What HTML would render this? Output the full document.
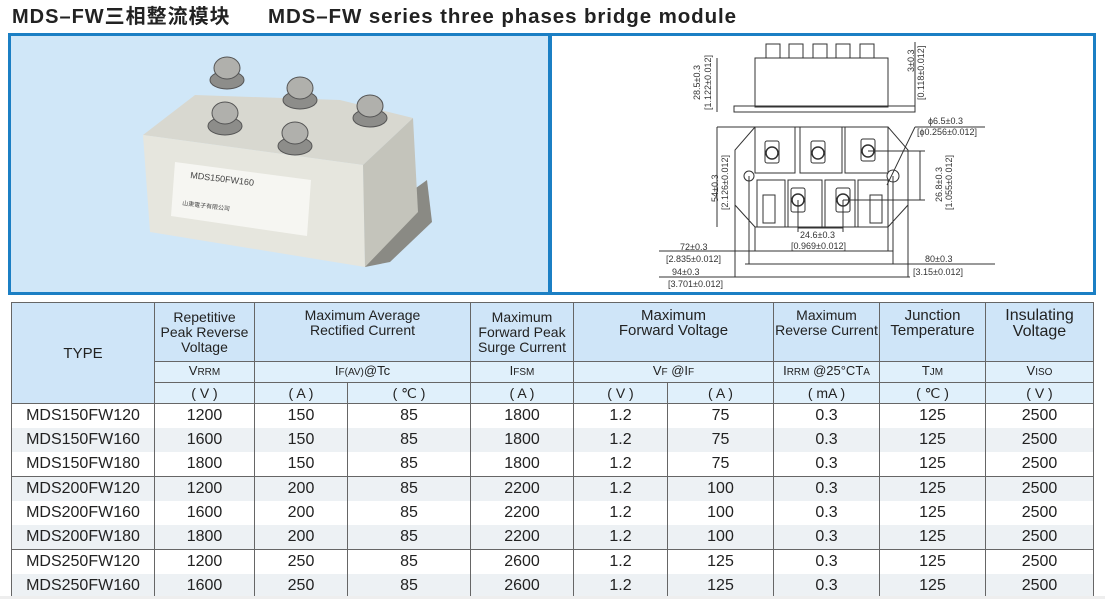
<!DOCTYPE html>
<html><head><meta charset="utf-8"><style>
body{margin:0;width:1105px;height:599px;overflow:hidden;background:#fff;font-family:"Liberation Sans","Noto Sans CJK SC",sans-serif;position:relative}
.t{position:absolute;top:4px;height:26px;line-height:26px;font-weight:bold;font-size:20px;color:#222;white-space:nowrap}
.p{position:absolute;box-sizing:border-box;border:3px solid #1b7fc4}
table{position:absolute;left:11px;top:302px;border-collapse:collapse;table-layout:fixed;font-family:"Liberation Sans",sans-serif;color:#222}
td{border:1px solid #666;text-align:center;padding:0;white-space:nowrap}
.h td{background:#cfe5f8;font-size:14px;line-height:15px;height:53px}
.s td{background:#e0f0fb;font-size:13px;line-height:14px;height:20px}
.u td{background:#e0f0fb;font-size:14px;line-height:15px;height:20px}
.d td{font-size:16px;line-height:18px;height:24px;border-top:none;border-bottom:none;background:#fff}
.d.z td{background:#edf1f4}
.d.g td{border-top:1px solid #666}
sm{font-size:10px}
</style></head><body>
<div class="t" style="left:12px;letter-spacing:1px">MDS–FW三相整流模块</div>
<div class="t" style="left:268px;letter-spacing:0.9px;font-size:20.5px">MDS–FW series three phases bridge module</div>
<div class="p" style="left:8px;top:33px;width:543px;height:262px;background:#d0e7f8">
<svg width="537" height="256" style="position:absolute;left:0;top:0" viewBox="11 36 537 256">
<polygon points="365,225 427,180 432,222 390,262 365,267" fill="#8a8a84"/>
<polygon points="143,135 195,95 340,100 413,118 363,165" fill="#d8d8d0"/>
<polygon points="143,135 363,165 365,267 150,232" fill="#e6e6de"/>
<polygon points="363,165 413,118 418,212 365,267" fill="#c4c4bb"/>
<polygon points="175,162 311,180 307,236 171,216" fill="#f6f6f2"/>
<text x="190" y="178" font-size="9" fill="#444" transform="rotate(7 190 178)">MDS150FW160</text>
<text x="182" y="205" font-size="6" fill="#444" transform="rotate(7 182 205)">山東電子有限公司</text>
<g fill="#8d8d8a" stroke="#555" stroke-width="1">
<ellipse cx="227" cy="80" rx="17" ry="9"/><ellipse cx="227" cy="68" rx="13" ry="11" fill="#b0b0ac"/>
<ellipse cx="300" cy="100" rx="17" ry="9"/><ellipse cx="300" cy="88" rx="13" ry="11" fill="#b0b0ac"/>
<ellipse cx="370" cy="118" rx="17" ry="9"/><ellipse cx="370" cy="106" rx="13" ry="11" fill="#b0b0ac"/>
<ellipse cx="225" cy="126" rx="17" ry="9"/><ellipse cx="225" cy="113" rx="13" ry="11" fill="#b0b0ac"/>
<ellipse cx="295" cy="146" rx="17" ry="9"/><ellipse cx="295" cy="133" rx="13" ry="11" fill="#b0b0ac"/>
</g>
</svg></div>
<div class="p" style="left:549px;top:33px;width:547px;height:262px;background:#fff"></div>
<svg width="1105" height="300" style="position:absolute;left:0;top:0" fill="none" stroke="#333" stroke-width="1" font-family="Liberation Sans" font-size="9">
<rect x="755" y="58" width="133" height="49"/><rect x="734" y="106" width="181" height="6"/>
<g fill="#fff"><rect x="766" y="44" width="14" height="14"/><rect x="789" y="44" width="14" height="14"/><rect x="813" y="44" width="14" height="14"/><rect x="836" y="44" width="14" height="14"/><rect x="860" y="44" width="14" height="14"/></g>
<line x1="717" y1="58" x2="717" y2="112"/><line x1="915" y1="42" x2="915" y2="112"/>
<g fill="#333" stroke="none">
<text transform="translate(700 100) rotate(-90)">28.5±0.3</text>
<text transform="translate(711 110) rotate(-90)">[1.122±0.012]</text>
<text transform="translate(914 72) rotate(-90)">3±0.3</text>
<text transform="translate(924 100) rotate(-90)">[0.118±0.012]</text>
<text transform="translate(718 202) rotate(-90)">54±0.3</text>
<text transform="translate(728 210) rotate(-90)">[2.126±0.012]</text>
<text transform="translate(942 202) rotate(-90)">26.8±0.3</text>
<text transform="translate(952 210) rotate(-90)">[1.055±0.012]</text>
<text x="928" y="124">ϕ6.5±0.3</text><text x="917" y="135">[ϕ0.256±0.012]</text>
<text x="800" y="238">24.6±0.3</text><text x="791" y="249">[0.969±0.012]</text>
<text x="680" y="250">72±0.3</text><text x="666" y="262">[2.835±0.012]</text>
<text x="672" y="275">94±0.3</text><text x="668" y="287">[3.701±0.012]</text>
<text x="925" y="262">80±0.3</text><text x="913" y="275">[3.15±0.012]</text>
</g>
<polygon points="755,127 888,127 908,150 908,205 888,227 755,227 735,205 735,150"/>
<line x1="717" y1="127" x2="755" y2="127"/><line x1="717" y1="127" x2="717" y2="227"/>
<rect x="755" y="127" width="40" height="46"/><rect x="800" y="127" width="42" height="46"/><rect x="845" y="127" width="43" height="46"/>
<rect x="757" y="180" width="28" height="47"/><rect x="788" y="180" width="34" height="47"/><rect x="825" y="180" width="30" height="47"/><rect x="858" y="180" width="30" height="47"/>
<rect x="765" y="141" width="14" height="22" rx="2"/><rect x="811" y="141" width="14" height="22" rx="2"/><rect x="861" y="139" width="14" height="22" rx="2"/>
<rect x="791" y="188" width="14" height="24" rx="2"/><rect x="836" y="188" width="14" height="24" rx="2"/>
<g stroke-width="1.5"><circle cx="772" cy="153" r="6"/><circle cx="818" cy="153" r="6"/><circle cx="868" cy="151" r="6"/><circle cx="798" cy="200" r="6"/><circle cx="843" cy="200" r="6"/></g>
<rect x="763" y="195" width="12" height="28"/><rect x="870" y="195" width="12" height="28"/>
<circle cx="749" cy="176" r="5"/><circle cx="893" cy="176" r="6"/>
<line x1="868" y1="151" x2="925" y2="151"/><line x1="843" y1="200" x2="925" y2="200"/><line x1="920" y1="151" x2="920" y2="200"/>
<line x1="887" y1="185" x2="915" y2="127"/><line x1="915" y1="127" x2="985" y2="127"/>
<line x1="798" y1="200" x2="798" y2="232"/><line x1="843" y1="200" x2="843" y2="232"/><line x1="798" y1="228" x2="843" y2="228"/>
<line x1="659" y1="251" x2="893" y2="251"/><line x1="755" y1="227" x2="755" y2="251"/><line x1="888" y1="227" x2="888" y2="251"/>
<line x1="745" y1="264" x2="995" y2="264"/><line x1="749" y1="176" x2="749" y2="264"/><line x1="893" y1="176" x2="893" y2="264"/>
<line x1="659" y1="277" x2="910" y2="277"/><line x1="735" y1="205" x2="735" y2="277"/><line x1="908" y1="205" x2="908" y2="277"/>
</svg>
<table>
<colgroup><col style="width:143px"><col style="width:100px"><col style="width:93px"><col style="width:123px"><col style="width:103px"><col style="width:94px"><col style="width:106px"><col style="width:106px"><col style="width:106px"><col style="width:108px"></colgroup>
<tr class="h"><td rowspan="3" style="font-size:15px;background:#cfe5f8">TYPE</td><td>Repetitive<br>Peak Reverse<br>Voltage</td><td colspan="2" style="vertical-align:top;padding-top:5px">Maximum Average<br>Rectified Current</td><td>Maximum<br>Forward Peak<br>Surge Current</td><td colspan="2" style="vertical-align:top;padding-top:5px;font-size:15px">Maximum<br>Forward Voltage</td><td style="vertical-align:top;padding-top:5px">Maximum<br>Reverse Current</td><td style="vertical-align:top;padding-top:5px;font-size:15px">Junction<br>Temperature</td><td style="vertical-align:top;padding-top:5px;font-size:16px;line-height:16px">Insulating<br>Voltage</td></tr>
<tr class="s"><td>V<sm>RRM</sm></td><td colspan="2">I<sm>F(AV)</sm>@Tc</td><td>I<sm>FSM</sm></td><td colspan="2">V<sm>F</sm> @I<sm>F</sm></td><td>I<sm>RRM</sm> @25°CT<sm>A</sm></td><td>T<sm>JM</sm></td><td>V<sm>ISO</sm></td></tr>
<tr class="u"><td>( V )</td><td>( A )</td><td>( ℃ )</td><td>( A )</td><td>( V )</td><td>( A )</td><td>( mA )</td><td>( ℃ )</td><td>( V )</td></tr>
<tr class="d"><td>MDS150FW120</td><td>1200</td><td>150</td><td>85</td><td>1800</td><td>1.2</td><td>75</td><td>0.3</td><td>125</td><td>2500</td></tr>
<tr class="d z"><td>MDS150FW160</td><td>1600</td><td>150</td><td>85</td><td>1800</td><td>1.2</td><td>75</td><td>0.3</td><td>125</td><td>2500</td></tr>
<tr class="d"><td>MDS150FW180</td><td>1800</td><td>150</td><td>85</td><td>1800</td><td>1.2</td><td>75</td><td>0.3</td><td>125</td><td>2500</td></tr>
<tr class="d g z"><td>MDS200FW120</td><td>1200</td><td>200</td><td>85</td><td>2200</td><td>1.2</td><td>100</td><td>0.3</td><td>125</td><td>2500</td></tr>
<tr class="d"><td>MDS200FW160</td><td>1600</td><td>200</td><td>85</td><td>2200</td><td>1.2</td><td>100</td><td>0.3</td><td>125</td><td>2500</td></tr>
<tr class="d z"><td>MDS200FW180</td><td>1800</td><td>200</td><td>85</td><td>2200</td><td>1.2</td><td>100</td><td>0.3</td><td>125</td><td>2500</td></tr>
<tr class="d g"><td>MDS250FW120</td><td>1200</td><td>250</td><td>85</td><td>2600</td><td>1.2</td><td>125</td><td>0.3</td><td>125</td><td>2500</td></tr>
<tr class="d z"><td>MDS250FW160</td><td>1600</td><td>250</td><td>85</td><td>2600</td><td>1.2</td><td>125</td><td>0.3</td><td>125</td><td>2500</td></tr>
</table>
<div style="position:absolute;left:0;top:596px;width:1105px;height:3px;background:#eee"></div>
</body></html>
